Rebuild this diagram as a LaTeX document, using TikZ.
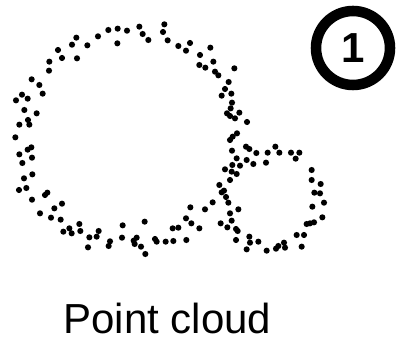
\documentclass[tikz,border=0pt]{standalone}
\usepackage{fontspec}
\setmainfont{Liberation Sans}
\usepackage{tikz}
\usetikzlibrary{positioning}
\tikzset{
    cloudpt/.style={fill=black},
    badge/.style={draw, circle, line width=7.9pt, minimum size=55.5pt, inner sep=0pt, font=\fontsize{31.5}{32}\selectfont\bfseries},
    caption/.style={inner sep=0pt, font=\fontsize{31.5}{36}\selectfont},
}

\begin{document}
\begin{tikzpicture}[x=0.25pt, y=-0.25pt]
        \useasboundingbox (0,0) rectangle (1194,1023);
        % Big ring of points
        \foreach \px/\py in {325/90, 353/86, 381/92, 418/80, 428/102, 445/120, 493/73, 489/96, 503/121, 352/130,
            294/109, 262/136, 229/113, 216/134, 231/175, 186/174, 174/150, 148/185, 147/212, 95/238,
            118/255, 128/281, 66/284, 48/301, 83/296, 73/330, 110/340, 58/374, 84/360, 88/374,
            46/412, 94/442, 83/449, 58/463, 96/473, 67/489, 535/138, 558/152, 570/129, 600/165, 598/195,
            97/523, 72/535, 57/570, 79/564, 96/599, 135/585, 142/578, 120/640, 163/625, 186/611,
            153/653, 182/659, 190/695, 208/685, 215/700, 238/672, 241/693, 268/712, 264/742, 290/710,
            296/693, 330/724, 326/738, 368/676, 366/713, 401/722, 410/713, 404/732, 423/740, 436/762,
            434/665, 465/717, 470/725, 497/725, 520/723, 559/720, 518/685, 535/683, 558/655, 574/670,
            571/622, 598/685, 615/628, 638/607,
            631/143, 640/185, 616/203, 645/215, 655/226, 703/205, 686/246, 675/267, 694/281, 665/287,
            696/308, 692/325, 718/338, 681/340, 690/348, 705/355, 741/366, 711/400, 698/410, 690/420,
            696/452, 710/475, 697/495, 720/497, 675/508, 695/515, 710/522, 690/540, 658/555, 665/577,
            672/572, 678/591, 685/608, 690/640, 715/628, 695/662, 682/682, 708/687, 713/693, 662/670}
            \fill[cloudpt] (\px,\py) circle (2.3pt);
        % Small ring of points
        \foreach \px/\py in {738/440, 748/447, 769/459, 740/480, 760/492, 798/488, 826/440, 803/458,
            838/458, 873/458, 887/476, 898/458, 935/510, 935/540, 962/552, 943/578, 960/580, 972/608,
            937/620, 967/652, 920/672, 930/670, 942/667, 890/705, 912/705, 905/740, 852/728, 855/743,
            835/738, 828/746, 800/752, 775/725, 748/710, 750/728, 740/748, 708/720}
            \fill[cloudpt] (\px,\py) circle (2.3pt);
        % Step number
        \node[badge] (num) at (1059,144) {1};
        % Caption
        \node[caption, anchor=base] (cap) at (502,999) {Point cloud};
    \end{tikzpicture}
\end{document}
